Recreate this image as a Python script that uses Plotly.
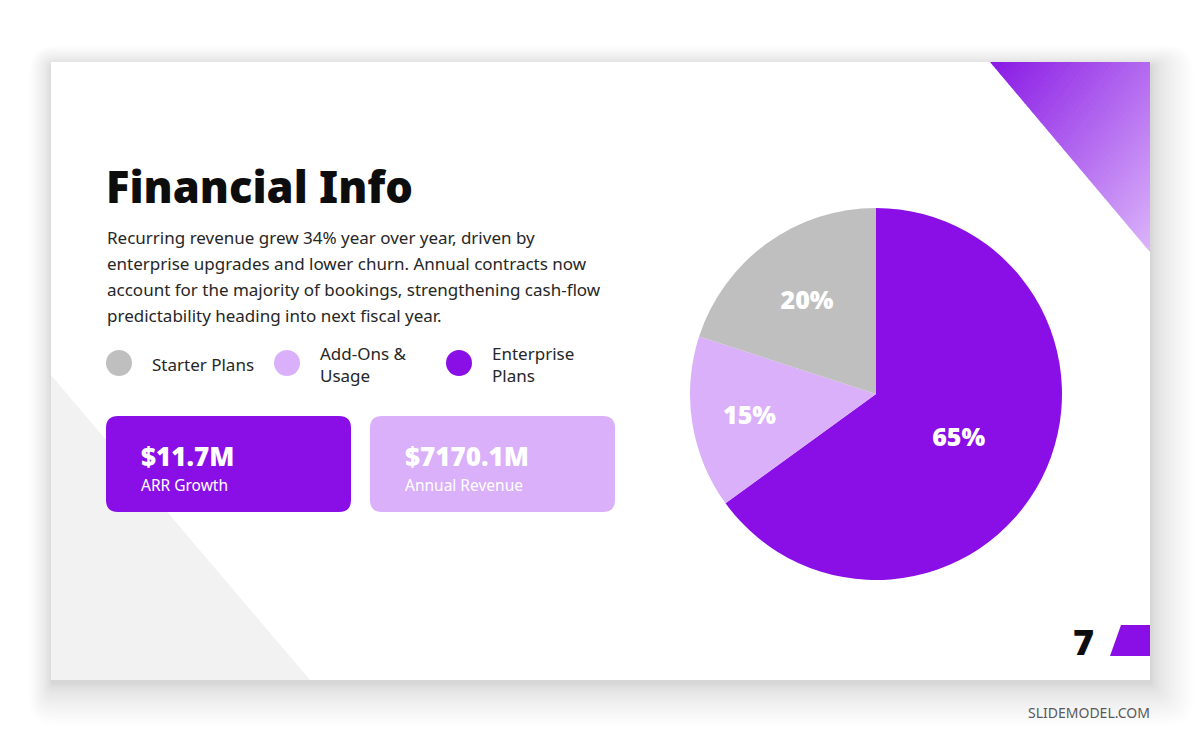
import plotly.graph_objects as go
import math

# ---------------- data ----------------
segments = ["Enterprise Plans", "Add-Ons & Usage", "Starter Plans"]
shares = [65, 15, 20]
seg_colors = ["#8A0FE6", "#D9B0F9", "#BFBFBF"]

legend_labels = ["Starter Plans", "Add-Ons &<br>Usage", "Enterprise<br>Plans"]
legend_colors = ["#BFBFBF", "#D9B0F9", "#8A0FE6"]

kpi_values = ["$11.7M", "$7170.1M"]
kpi_labels = ["ARR Growth", "Annual Revenue"]
kpi_colors = ["#8A0FE6", "#D9B0F9"]

title = "Financial Info"
body_lines = [
    "Recurring revenue grew 34% year over year, driven by",
    "enterprise upgrades and lower churn. Annual contracts now",
    "account for the majority of bookings, strengthening cash-flow",
    "predictability heading into next fiscal year.",
]
page_number = "7"
brand = "SLIDEMODEL.COM"

W, H = 1200, 743
SX0, SY0, SX1, SY1 = 51, 62, 1150, 680

shapes = []


def rrect(x0, y0, x1, y1, r):
    return (f"M {x0+r},{y0} L {x1-r},{y0} Q {x1},{y0} {x1},{y0+r} "
            f"L {x1},{y1-r} Q {x1},{y1} {x1-r},{y1} L {x0+r},{y1} "
            f"Q {x0},{y1} {x0},{y1-r} L {x0},{y0+r} Q {x0},{y0} {x0+r},{y0} Z")


# soft shadow behind slide
NS = 40
for i in range(NS, 0, -1):
    f = (i / NS) ** 1.6
    x0 = SX0 - 22 * f
    y0 = SY0 - 20 * f + 3
    x1 = SX1 + 42 * f + 2
    y1 = SY1 + 42 * f + 4
    shapes.append(dict(type="path", xref="x", yref="y",
                       path=rrect(x0, y0, x1, y1, 2 + 24 * f),
                       line=dict(width=0), fillcolor="rgba(0,0,0,0.0055)", layer="below"))
# slide
shapes.append(dict(type="rect", xref="x", yref="y", x0=SX0, y0=SY0, x1=SX1, y1=SY1,
                   line=dict(width=0), fillcolor="#FFFFFF", layer="below"))
# grey triangle bottom-left
shapes.append(dict(type="path", xref="x", yref="y",
                   path=f"M {SX0},375 L {SX0},{SY1} L 310,{SY1} Z",
                   line=dict(width=0), fillcolor="#F2F2F2", layer="below"))


# gradient triangle top-right (bands clipped to the triangle)
def clip(poly, a, b, c, keep_ge):
    out = []
    n = len(poly)
    for k in range(n):
        p, q = poly[k], poly[(k + 1) % n]
        fp = a * p[0] + b * p[1] - c
        fq = a * q[0] + b * q[1] - c
        if not keep_ge:
            fp, fq = -fp, -fq
        if fp >= 0:
            out.append(p)
        if (fp >= 0) != (fq >= 0):
            t = fp / (fp - fq)
            out.append((p[0] + t * (q[0] - p[0]), p[1] + t * (q[1] - p[1])))
    return out


tri = [(990, SY0), (SX1, SY0), (SX1, 252)]
th = math.radians(38)
dx, dy = math.cos(th), math.sin(th)
svals = [dx * (x - 990) + dy * (y - SY0) for x, y in tri]
smin, smax = min(svals), max(svals)
c0 = (136, 24, 228)
c1 = (219, 180, 250)
NB = 60
for k in range(NB):
    s0 = smin + (smax - smin) * k / NB
    s1 = smin + (smax - smin) * (k + 1) / NB + 0.6
    poly = clip(tri, dx, dy, s0 + dx * 990 + dy * SY0, True)
    poly = clip(poly, dx, dy, s1 + dx * 990 + dy * SY0, False)
    if len(poly) < 3:
        continue
    t = (k + 0.5) / NB
    col = tuple(round(c0[j] + (c1[j] - c0[j]) * t) for j in range(3))
    path = "M " + " L ".join(f"{x:.2f},{y:.2f}" for x, y in poly) + " Z"
    shapes.append(dict(type="path", xref="x", yref="y", path=path,
                       line=dict(width=0), fillcolor=f"rgb{col}", layer="below"))

# KPI cards
card_x = [106, 370]
card_w = 245
for i in range(len(kpi_values)):
    shapes.append(dict(type="path", xref="x", yref="y",
                       path=rrect(card_x[i], 416, card_x[i] + card_w, 512, 12),
                       line=dict(width=0), fillcolor=kpi_colors[i], layer="below"))

# legend dots
leg_x = [119, 287, 459]
for i in range(len(legend_labels)):
    shapes.append(dict(type="circle", xref="x", yref="y",
                       x0=leg_x[i] - 13, y0=363 - 13, x1=leg_x[i] + 13, y1=363 + 13,
                       line=dict(width=0), fillcolor=legend_colors[i]))

# page tab
shapes.append(dict(type="path", xref="x", yref="y",
                   path=f"M 1110,656 L 1121,625 L {SX1},625 L {SX1},656 Z",
                   line=dict(width=0), fillcolor="#8A0FE6"))

ann = []
FONT = "Noto Sans"
ann.append(dict(x=104, y=186, xref="x", yref="y", text=title, showarrow=False,
                xanchor="left", yanchor="middle",
                font=dict(family="Noto Sans", size=43.5, color="#0D0D0D", weight=900)))
for i, line in enumerate(body_lines):
    ann.append(dict(x=105, y=237 + i * 26, xref="x", yref="y", text=line, showarrow=False,
                    xanchor="left", yanchor="middle",
                    font=dict(family=FONT, size=17, color="#262626")))
leg_tx = [150, 318, 490]
for i in range(len(legend_labels)):
    ann.append(dict(x=leg_tx[i], y=364, xref="x", yref="y", text=legend_labels[i],
                    showarrow=False, xanchor="left", yanchor="middle", align="left",
                    font=dict(family=FONT, size=17, color="#262626")))
for i in range(len(kpi_values)):
    ann.append(dict(x=card_x[i] + 33, y=456, xref="x", yref="y", text=kpi_values[i],
                    showarrow=False, xanchor="left", yanchor="middle",
                    font=dict(family=FONT, size=26, color="#FFFFFF", weight=900)))
    ann.append(dict(x=card_x[i] + 33, y=485, xref="x", yref="y", text=kpi_labels[i],
                    showarrow=False, xanchor="left", yanchor="middle",
                    font=dict(family=FONT, size=15.5, color="#FFFFFF")))
ann.append(dict(x=1096, y=641, xref="x", yref="y", text=page_number, showarrow=False,
                xanchor="right", yanchor="middle",
                font=dict(family="Noto Sans", size=36, color="#0D0D0D", weight=900)))
ann.append(dict(x=1152, y=712, xref="x", yref="y", text=brand, showarrow=False,
                xanchor="right", yanchor="middle",
                font=dict(family=FONT, size=14, color="#595959")))

fig = go.Figure()
fig.add_trace(go.Scatter(x=[0, W], y=[0, H], mode="markers", marker=dict(opacity=0),
                         hoverinfo="skip", showlegend=False))

cx, cy, r = 876, 394, 186
fig.add_trace(go.Pie(
    labels=segments, values=shares, sort=False, direction="clockwise", rotation=0,
    marker=dict(colors=seg_colors, line=dict(width=0)),
    texttemplate="%{value}%", textposition="inside", insidetextorientation="horizontal",
    textfont=dict(family=FONT, size=25, color="#FFFFFF", weight=900),
    domain=dict(x=[(cx - r) / W, (cx + r) / W], y=[1 - (cy + r) / H, 1 - (cy - r) / H]),
    showlegend=False, hoverinfo="label+percent",
))

fig.update_layout(
    width=W, height=H, margin=dict(l=0, r=0, t=0, b=0),
    paper_bgcolor="#FFFFFF", plot_bgcolor="rgba(0,0,0,0)",
    xaxis=dict(range=[0, W], visible=False, fixedrange=True),
    yaxis=dict(range=[H, 0], visible=False, fixedrange=True),
    shapes=shapes, annotations=ann,
)
fig.write_html("out.html")
